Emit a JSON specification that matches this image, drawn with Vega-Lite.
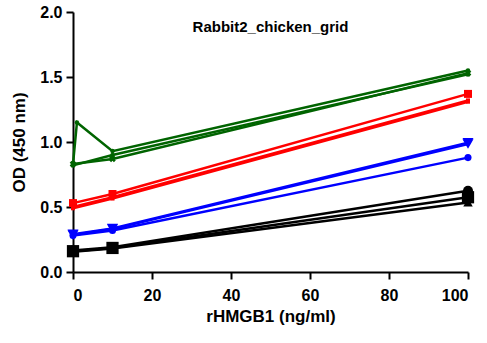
{
  "$schema": "https://vega.github.io/schema/vega-lite/v6.json",
  "width": 395,
  "height": 260,
  "autosize": "none",
  "padding": {"left": 73, "top": 12, "right": 19, "bottom": 71},
  "background": "white",
  "title": {
    "text": "Rabbit2_chicken_grid",
    "font": "Liberation Sans",
    "fontSize": 15,
    "fontWeight": "bold",
    "color": "black",
    "anchor": "middle",
    "offset": -31
  },
  "config": {
    "view": {"stroke": null},
    "axis": {
      "grid": false,
      "domainColor": "black",
      "domainWidth": 2,
      "tickColor": "black",
      "tickWidth": 2,
      "tickSize": 7,
      "labelFont": "Liberation Sans",
      "labelFontSize": 16,
      "labelFontWeight": "bold",
      "labelColor": "black",
      "titleFont": "Liberation Sans",
      "titleFontSize": 17,
      "titleFontWeight": "bold",
      "titleColor": "black"
    }
  },
  "data": {
    "values": [
      {"s": "K1", "x": 0, "y": 0.16}, {"s": "K1", "x": 10, "y": 0.185}, {"s": "K1", "x": 100, "y": 0.575},
      {"s": "K2", "x": 0, "y": 0.165}, {"s": "K2", "x": 10, "y": 0.19}, {"s": "K2", "x": 100, "y": 0.625},
      {"s": "K3", "x": 0, "y": 0.155}, {"s": "K3", "x": 10, "y": 0.18}, {"s": "K3", "x": 100, "y": 0.535},
      {"s": "B1", "x": 0, "y": 0.29}, {"s": "B1", "x": 10, "y": 0.335}, {"s": "B1", "x": 100, "y": 0.995},
      {"s": "B2", "x": 0, "y": 0.285}, {"s": "B2", "x": 10, "y": 0.33}, {"s": "B2", "x": 100, "y": 0.985},
      {"s": "B3", "x": 0, "y": 0.28}, {"s": "B3", "x": 10, "y": 0.32}, {"s": "B3", "x": 100, "y": 0.88},
      {"s": "R1", "x": 0, "y": 0.53}, {"s": "R1", "x": 10, "y": 0.6}, {"s": "R1", "x": 100, "y": 1.37},
      {"s": "R2", "x": 0, "y": 0.5}, {"s": "R2", "x": 10, "y": 0.575}, {"s": "R2", "x": 100, "y": 1.32},
      {"s": "R3", "x": 0, "y": 0.49}, {"s": "R3", "x": 10, "y": 0.565}, {"s": "R3", "x": 100, "y": 1.31},
      {"s": "G1", "x": 0, "y": 0.83}, {"s": "G1", "x": 1, "y": 1.15}, {"s": "G1", "x": 10, "y": 0.93}, {"s": "G1", "x": 100, "y": 1.55},
      {"s": "G2", "x": 0, "y": 0.83}, {"s": "G2", "x": 10, "y": 0.87}, {"s": "G2", "x": 100, "y": 1.53},
      {"s": "G3", "x": 0, "y": 0.82}, {"s": "G3", "x": 10, "y": 0.9}, {"s": "G3", "x": 100, "y": 1.52}
    ]
  },
  "encoding": {
    "x": {
      "field": "x", "type": "quantitative",
      "scale": {"domain": [0, 100], "nice": false, "zero": false},
      "axis": {"values": [0, 20, 40, 60, 80, 100], "title": "rHMGB1 (ng/ml)", "labelPadding": 8, "titlePadding": 5}
    },
    "y": {
      "field": "y", "type": "quantitative",
      "scale": {"domain": [0, 2], "nice": false},
      "axis": {"values": [0, 0.5, 1, 1.5, 2], "format": ".1f", "title": "OD (450 nm)", "labelPadding": 4, "titlePadding": 11}
    },
    "color": {
      "field": "s", "type": "nominal", "legend": null,
      "scale": {
        "domain": ["K1", "K2", "K3", "B1", "B2", "B3", "R1", "R2", "R3", "G1", "G2", "G3"],
        "range": ["#000000", "#000000", "#000000", "#0000ff", "#0000ff", "#0000ff", "#ff0000", "#ff0000", "#ff0000", "#006400", "#006400", "#006400"]
      }
    }
  },
  "layer": [
    {
      "mark": {"type": "line", "strokeWidth": 2.5},
      "encoding": {"detail": {"field": "s"}}
    },
    {
      "transform": [{"filter": "datum.s == 'K1'"}],
      "mark": {"type": "point", "shape": "square", "size": 150, "filled": true, "opacity": 1}
    },
    {
      "transform": [{"filter": "datum.s == 'K2'"}],
      "mark": {"type": "point", "shape": "circle", "size": 100, "filled": true, "opacity": 1}
    },
    {
      "transform": [{"filter": "datum.s == 'K3'"}],
      "mark": {"type": "point", "shape": "triangle-up", "size": 90, "filled": true, "opacity": 1}
    },
    {
      "transform": [{"filter": "datum.s == 'B1' || datum.s == 'B2'"}],
      "mark": {"type": "point", "shape": "triangle-down", "size": 120, "filled": true, "opacity": 1}
    },
    {
      "transform": [{"filter": "datum.s == 'B3'"}],
      "mark": {"type": "point", "shape": "circle", "size": 50, "filled": true, "opacity": 1}
    },
    {
      "transform": [{"filter": "datum.s == 'R1'"}],
      "mark": {"type": "point", "shape": "square", "size": 64, "filled": true, "opacity": 1}
    },
    {
      "transform": [{"filter": "datum.s == 'R2' || datum.s == 'R3'"}],
      "mark": {"type": "point", "shape": "square", "size": 16, "filled": true, "opacity": 1}
    },
    {
      "transform": [{"filter": "datum.s == 'G1' || datum.s == 'G3'"}],
      "mark": {"type": "point", "shape": "circle", "size": 20, "filled": true, "opacity": 1}
    },
    {
      "transform": [{"filter": "datum.s == 'G2'"}],
      "mark": {"type": "point", "shape": "cross", "angle": 45, "size": 45, "filled": true, "opacity": 1}
    }
  ]
}
